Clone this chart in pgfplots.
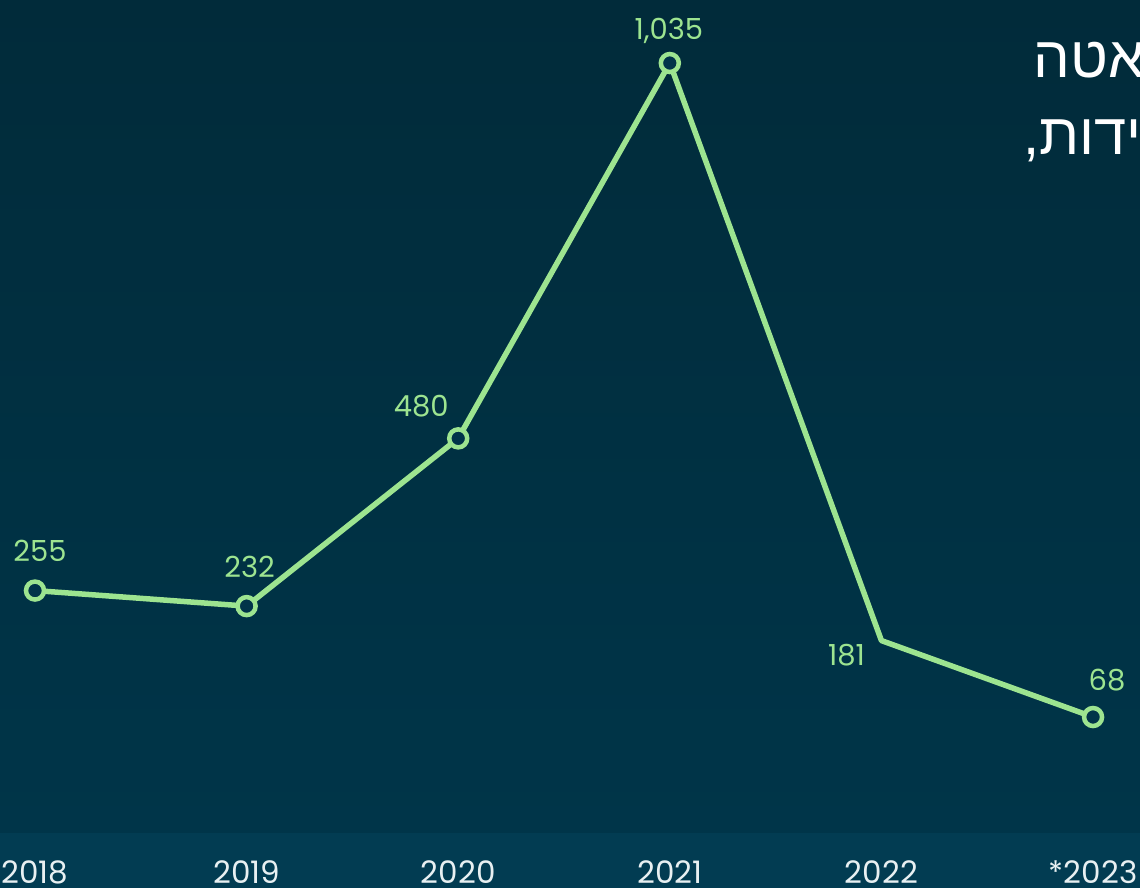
\documentclass[border=0pt]{standalone}
\usepackage{fontspec}
\usepackage{pgfplots}
\usepackage{pgfplotstable}
\pgfplotsset{compat=1.18}
\TeXXeTstate=1
\newfontfamily\numfont{Poppins}
\newfontfamily\hebfont[Script=Hebrew]{Liberation Sans}
\definecolor{bgtop}{HTML}{012B3A}
\definecolor{bgbot}{HTML}{003549}
\definecolor{band}{HTML}{023C52}
\definecolor{lgreen}{HTML}{9DE490}
\definecolor{mfill}{HTML}{013449}
\definecolor{ylab}{HTML}{E8F0F2}
\pgfplotstableread{
x y dx dy
0 255 5 29
1 232 3 29
2 480 -37 22
3 1035 -1 24
4 181 -35 -25
5 68 14 27
}\data
\begin{document}
\begin{tikzpicture}
\path[use as bounding box] (0,0) rectangle (1140pt,888pt);
\clip (0,0) rectangle (1140pt,888pt);
\shade[top color=bgtop, bottom color=bgbot] (0,55pt) rectangle (1140pt,888pt);
\fill[band] (0,0) rectangle (1140pt,55pt);
\begin{axis}[
  at={(0,0)}, anchor=south west,
  width=1140pt, height=888pt, scale only axis,
  xmin=-0.1654, xmax=5.222,
  ymin=-184.8, ymax=1128.2,
  axis line style={draw=none},
  ytick=\empty,
  xtick={0,...,5},
  xticklabels={2018,2019,2020,2021,2022,{*2023}},
  major tick length=0pt,
  xticklabel style={anchor=base, yshift=4pt, text=ylab, font=\numfont\fontsize{31}{37}\selectfont},
  /pgf/number format/assume math mode=true,
  clip=false,
]
\addplot[draw=lgreen, line width=5.5pt, line join=round, mark=none,
  point meta=explicit,
  visualization depends on={\thisrow{dx}\as\dx},
  visualization depends on={\thisrow{dy}\as\dy},
  nodes near coords={\pgfmathprintnumber[1000 sep={,}]{\pgfplotspointmeta}},
  every node near coord/.append style={anchor=base, inner sep=0pt, xshift=\dx pt, yshift=\dy pt, text=lgreen, font=\numfont\fontsize{29}{35}\selectfont}]
  table[x=x, y=y, meta=y] {\data};
\addplot[only marks, mark=*, mark size=9pt,
  mark options={draw=lgreen, fill=mfill, line width=4.5pt},
  skip coords between index={4}{5}]
  table[x=x, y=y] {\data};
\end{axis}
\node[anchor=base east, inner sep=0pt, text=white, font=\hebfont\fontsize{58}{70}\selectfont] at (1145pt,810pt) {\beginR אטה\endR};
\node[anchor=base east, inner sep=0pt, text=white, font=\hebfont\fontsize{58}{70}\selectfont] at (1142pt,733pt) {\beginR ידות,\endR};
\end{tikzpicture}
\end{document}
